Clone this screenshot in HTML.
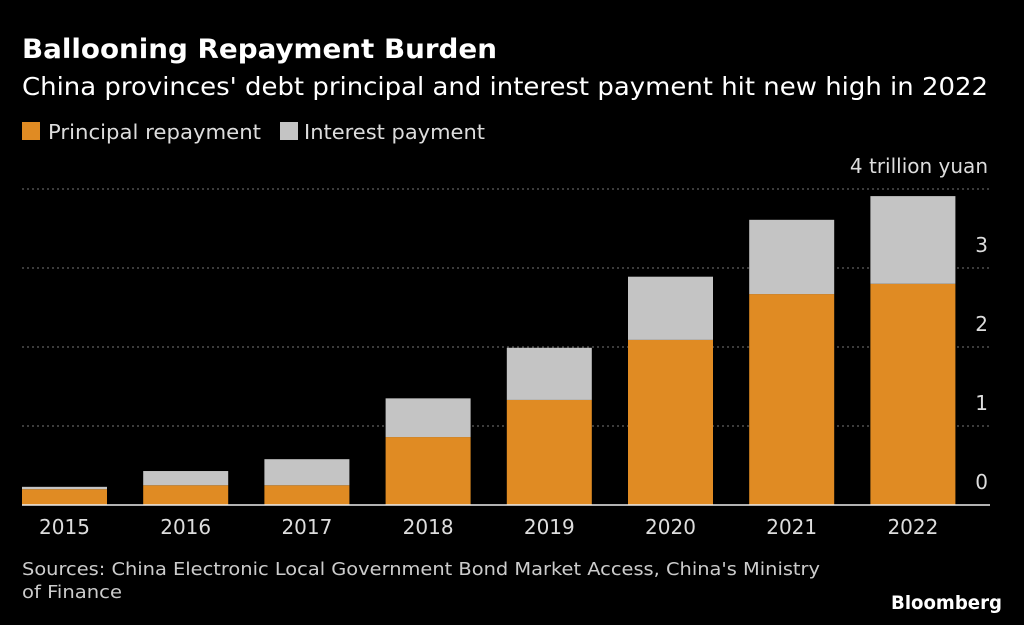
<!DOCTYPE html>
<html><head><meta charset="utf-8"><style>
body{margin:0;background:#000;width:1024px;height:621px;overflow:hidden;font-family:"DejaVu Sans","Liberation Sans",sans-serif;color:#fff}
svg text{font-family:"DejaVu Sans","Liberation Sans",sans-serif}
</style></head><body>
<svg width="1024" height="621">
<text x="22" y="58" font-size="27" font-weight="bold" fill="#fff" textLength="475" lengthAdjust="spacingAndGlyphs">Ballooning Repayment Burden</text>
<text x="22" y="95" font-size="25" fill="#fff" textLength="966" lengthAdjust="spacingAndGlyphs">China provinces' debt principal and interest payment hit new high in 2022</text>
<g>
<rect x="22" y="122" width="18" height="18" fill="#e08b23"/>
<text x="48" y="139" font-size="20" fill="#ddd" textLength="213" lengthAdjust="spacingAndGlyphs">Principal repayment</text>
<rect x="280" y="122" width="18" height="18" fill="#c4c4c4"/>
<text x="304" y="139" font-size="20" fill="#ddd" textLength="181" lengthAdjust="spacingAndGlyphs">Interest payment</text>
</g>
<g id="grid"></g><g id="bars"></g><g id="labels"></g>
<text x="22" y="575" font-size="18" fill="#ccc" textLength="798" lengthAdjust="spacingAndGlyphs">Sources: China Electronic Local Government Bond Market Access, China's Ministry</text>
<text x="22" y="598" font-size="18" fill="#ccc" textLength="100" lengthAdjust="spacingAndGlyphs">of Finance</text>
<text x="1002" y="609" font-size="19" font-weight="bold" fill="#fff" text-anchor="end" textLength="111" lengthAdjust="spacingAndGlyphs">Bloomberg</text>
</svg>
<script>
const categories=["2015","2016","2017","2018","2019","2020","2021","2022"];
const principal=[0.2,0.25,0.25,0.86,1.33,2.09,2.67,2.8];
const interest=[0.03,0.18,0.33,0.49,0.66,0.8,0.94,1.11];
const yTicks=[0,1,2,3,4];
const yTickLabels=["0","1","2","3","4 trillion yuan"];
const NS="http://www.w3.org/2000/svg";
const y0=505,unit=79,xl=22,xr=990,step=121.2,bw=85,c0=64.5;
const y=v=>y0-v*unit, xc=i=>c0+i*step;
function mk(t,a,p){const e=document.createElementNS(NS,t);for(const k in a)e.setAttribute(k,a[k]);p.appendChild(e);return e;}
const g=document.getElementById('grid'),b=document.getElementById('bars'),l=document.getElementById('labels');
yTicks.forEach((v,i)=>{
 if(v>0){const ln=mk('line',{x1:xl,x2:xr,y1:y(v),y2:y(v),stroke:'#777','stroke-dasharray':'2,3','stroke-width':1},g);
 
 }
 const t=mk('text',{x:988,y:y(v)-16,'font-size':20,fill:'#ddd','text-anchor':'end'},l);t.textContent=yTickLabels[i];
 
 
});
categories.forEach((c,i)=>{
 const p=mk('rect',{x:xc(i)-bw/2,y:y(principal[i]),width:bw,height:principal[i]*unit,fill:'#e08b23'},b);
 
 
 const q=mk('rect',{x:xc(i)-bw/2,y:y(principal[i]+interest[i]),width:bw,height:interest[i]*unit,fill:'#c4c4c4'},b);
 
 
 const t=mk('text',{x:xc(i),y:534,'font-size':20,fill:'#ddd','text-anchor':'middle'},l);t.textContent=c;
 
 
});
const z=mk('line',{x1:xl,x2:xr,y1:y0,y2:y0,stroke:'#eee','stroke-width':1.5},b);


</script>
</body></html>
